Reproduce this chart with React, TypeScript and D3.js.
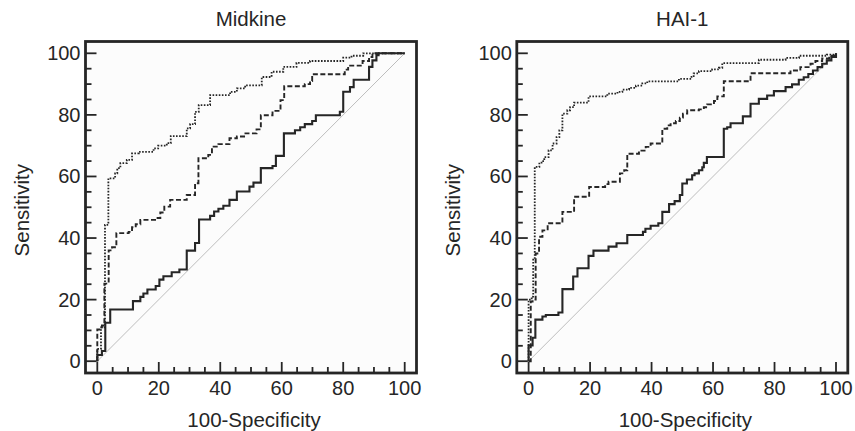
import React from "react";
import * as d3 from "d3";

// Tick values
const majorTicks = [0, 20, 40, 60, 80, 100];
const minorTicks = d3.range(0, 101, 5);

const panelTitles = ["Midkine", "HAI-1"];
const xAxisTitle = "100-Specificity";
const yAxisTitle = "Sensitivity";

// Each point: [100-Specificity, Sensitivity] where the curve rises to Sensitivity at that x
const midkineSolid: [number, number][] = [
  [0, 0], [0, 2], [1.5, 3.3], [2.6, 12.5], [4.2, 16.8], [11.6, 19.5], [14, 20.9], [15, 22], [16.3, 23.3],
  [19, 24.4], [20.2, 26.5], [21.5, 27.6], [24.2, 28.9], [26.7, 29.8], [29.1, 35.9], [31.8, 38.4], [33.1, 46],
  [36.7, 47.2], [38, 48.6], [39.4, 49.5], [41, 50.5], [43, 52.4], [45.4, 55.1], [49.5, 56.7], [50.8, 58],
  [53.2, 62.7], [57, 63.4], [58.1, 66.7], [60.7, 74], [64.3, 75], [66, 76], [67.5, 77], [69.9, 78], [71.1, 79.9],
  [78.9, 81], [80, 87.5], [82.2, 89], [83.4, 91.4], [88.4, 95.6], [89.5, 97.7], [90.8, 99.4], [91.5, 100], [100, 100],
];
const midkineDashed: [number, number][] = [
  [0, 0], [0, 10.3], [1.5, 11.6], [2.3, 25.2], [3.7, 36], [4.8, 37], [6.2, 41.6], [10.2, 42], [11.3, 43.5],
  [12.5, 44.5], [14, 45.9], [18.8, 46.5], [20.5, 48.3], [21.8, 50.2], [23.7, 52.4], [29.1, 54], [31.8, 57.8],
  [32.9, 65.9], [36.1, 67], [37.3, 69.7], [39.4, 70.5], [43, 72.4], [45.4, 73], [48.2, 74], [51.8, 75.3],
  [53.2, 79.9], [57, 81.3], [59.6, 84.8], [60.8, 89.3], [67.5, 90], [69.2, 91], [69.9, 93.2], [80.5, 94.7],
  [81.6, 96], [86.3, 97.5], [88.4, 98.8], [89.5, 100], [100, 100],
];
const midkineDotted: [number, number][] = [
  [0, 0], [0, 4], [1.2, 11], [2.5, 44.3], [3.6, 59.4], [5.8, 61], [6.5, 62.7], [7.5, 64.3], [9.6, 65.4],
  [11.3, 67.5], [13.5, 68], [18.3, 69.1], [19.8, 70], [22.6, 70.8], [23.9, 73.1], [29.1, 75.6], [30.2, 77],
  [31.8, 81], [33, 83.2], [36.7, 86.4], [43.2, 87.5], [45.4, 88.6], [48.1, 89.6], [53.5, 92.3], [56.7, 94],
  [60.5, 95.6], [64.8, 96.9], [69.2, 97.5], [80, 98.6], [82.7, 99.2], [86.5, 100], [100, 100],
];

const haiSolid: [number, number][] = [
  [0, 0], [0, 5.1], [1.3, 7.6], [2.2, 13.5], [4.5, 14.5], [5.6, 15], [9.7, 15.8], [11, 23.4], [14.5, 27.5],
  [15.9, 30.2], [19.5, 34.2], [21.1, 35.9], [26, 37.2], [28.6, 38.3], [32.1, 41], [37.2, 42], [38, 43],
  [39.7, 44], [42.2, 44.8], [43.5, 48.5], [45.7, 51], [47.5, 52], [49.2, 54], [50, 57.7], [51.5, 59],
  [53.2, 60.4], [54, 61], [55.4, 62], [56.5, 63], [57, 64.4], [58, 66.3], [63.5, 75.5], [64.6, 76],
  [65.7, 77.3], [69.7, 79.5], [72.2, 83.6], [74.9, 85.2], [77.6, 86.3], [79.8, 87.7], [83.6, 89], [85.7, 89.9],
  [87.9, 91.4], [89.5, 92.2], [91, 93.3], [92.5, 94.4], [94, 95.5], [95.5, 96.6], [97, 97.7], [98.5, 98.8], [100, 100],
];
const haiDashed: [number, number][] = [
  [0, 0], [0.7, 19.4], [1.3, 20], [2.3, 35], [3.4, 40.4], [4.5, 42.5], [6.2, 44.8], [11, 48.5], [14.8, 53.4],
  [19.7, 56.6], [24.9, 57.5], [26, 58.3], [29.7, 61], [31.1, 62], [32.1, 67.4], [35.9, 68.4], [38.1, 69.6],
  [39.7, 70.7], [43.5, 75.5], [45.1, 76.6], [46.2, 77.3], [47.9, 78], [49.2, 79.1], [50.2, 80.4], [51.6, 81.5],
  [55.4, 81.8], [57, 82.5], [58.1, 83.4], [60.3, 84.5], [61.4, 86], [63.5, 90.9], [72.2, 93.5], [85.2, 94.4],
  [88.4, 95.5], [91.7, 96.6], [93.3, 97.5], [95.5, 98.3], [97.8, 99.2], [100, 100],
];
const haiDotted: [number, number][] = [
  [0, 0], [0, 20], [1, 21], [1.5, 33], [2, 63.1], [3.5, 64.5], [4.2, 65], [5.1, 66.3], [6.5, 68.5], [7.8, 70.7],
  [9.1, 72.8], [10, 75], [11, 80.4], [12.6, 81.5], [13.5, 82.5], [14.8, 84], [19.5, 86], [25.6, 86.9],
  [28.9, 87.5], [30.5, 88.2], [32.7, 88.8], [34.9, 89.5], [37, 90.2], [38.6, 90.9], [48.9, 91.7], [53, 92.6],
  [53.7, 93.5], [55.4, 94.2], [59.7, 94.8], [61.9, 95.3], [63, 96.8], [74.9, 97.9], [83.6, 98.5], [88, 99.2],
  [97, 99.6], [100, 100],
];

const panelCurves = [
  [midkineSolid, midkineDashed, midkineDotted],
  [haiSolid, haiDashed, haiDotted],
];

const INK = "#262626";
const FONT = "'Liberation Sans', Arial, Helvetica, sans-serif";

function Panel({ left, title, curves }: { left: number; title: string; curves: [number, number][][] }) {
  const frameL = left;
  const frameR = left + 331;
  const frameT = 41.5;
  const frameB = 373;
  const inset = 11.8;
  const x = d3.scaleLinear().domain([0, 100]).range([frameL + inset, frameR - inset]);
  const y = d3.scaleLinear().domain([0, 100]).range([frameB - inset, frameT + inset]);
  const line = d3
    .line<[number, number]>()
    .x((d) => x(d[0]))
    .y((d) => y(d[1]))
    .curve(d3.curveStepAfter);
  const styles = [
    { w: 2.1, dash: undefined as string | undefined },
    { w: 1.9, dash: "5,2.5" },
    { w: 1.8, dash: "1.6,1.5" },
  ];
  const cx = (frameL + frameR) / 2;
  return (
    <g>
      <rect x={frameL} y={frameT} width={frameR - frameL} height={frameB - frameT} fill="#fcfcfc" stroke="none" />
      <line x1={x(0)} y1={y(0)} x2={x(100)} y2={y(100)} stroke="#bdbdbd" strokeWidth={1} />
      {curves.map((c, i) => (
        <path
          key={i}
          d={line(c) || ""}
          fill="none"
          stroke={INK}
          strokeWidth={styles[i].w}
          strokeDasharray={styles[i].dash}
        />
      ))}
      <rect x={frameL} y={frameT} width={frameR - frameL} height={frameB - frameT} fill="none" stroke={INK} strokeWidth={2.8} />
      {minorTicks.map((t) => {
        const major = t % 20 === 0;
        const len = major ? 11 : 6;
        return (
          <g key={t}>
            <line x1={frameL} x2={frameL + len} y1={y(t)} y2={y(t)} stroke={INK} strokeWidth={1.8} />
            <line x1={x(t)} x2={x(t)} y1={frameB} y2={frameB - len} stroke={INK} strokeWidth={1.8} />
          </g>
        );
      })}
      {majorTicks.map((t) => (
        <g key={"l" + t} fontFamily={FONT} fontSize={20} fill={INK}>
          <text x={frameL - 5} y={y(t)} textAnchor="end" dominantBaseline="central">
            {t}
          </text>
          <text x={x(t)} y={frameB + 15} textAnchor="middle" dominantBaseline="central">
            {t}
          </text>
        </g>
      ))}
      <text x={cx} y={18} textAnchor="middle" dominantBaseline="central" fontFamily={FONT} fontSize={20.5} fill={INK}>
        {title}
      </text>
      <text x={cx + 3} y={419} textAnchor="middle" dominantBaseline="central" fontFamily={FONT} fontSize={20.5} fill={INK}>
        {xAxisTitle}
      </text>
      <text
        transform={`translate(${frameL - 64},${(frameT + frameB) / 2 + 3}) rotate(-90)`}
        textAnchor="middle"
        dominantBaseline="central"
        fontFamily={FONT}
        fontSize={20.5}
        fill={INK}
      >
        {yAxisTitle}
      </text>
    </g>
  );
}

export default function App() {
  const lefts = [85.5, 516.8];
  return (
    <svg
      width={855}
      height={431}
      viewBox="0 0 855 431"
      style={{ position: "absolute", left: 0, top: 0, background: "#fff" }}
    >
      <rect width={855} height={431} fill="#fff" />
      {panelTitles.map((t, i) => (
        <Panel key={t} left={lefts[i]} title={t} curves={panelCurves[i]} />
      ))}
    </svg>
  );
}
